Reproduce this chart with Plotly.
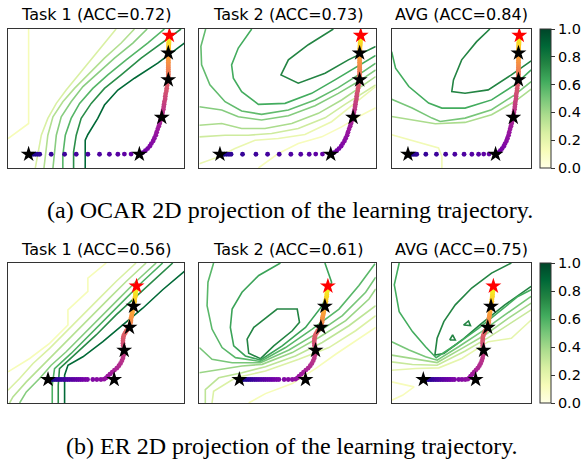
import plotly.graph_objects as go
from plotly.colors import sample_colorscale, get_colorscale

W, H = 582, 459

titles = ["Task 1 (ACC=0.72)", "Task 2 (ACC=0.73)", "AVG (ACC=0.84)",
          "Task 1 (ACC=0.56)", "Task 2 (ACC=0.61)", "AVG (ACC=0.75)"]
captions = ["(a) OCAR 2D projection of the learning trajectory.",
            "(b) ER 2D projection of the learning trajectory."]
cbar_ticks = [0.0, 0.2, 0.4, 0.6, 0.8, 1.0]

# ---- learning trajectories (projected coords, 0..1 box) ----
ocar_x = [0.117, 0.130, 0.142, 0.155, 0.168, 0.180, 0.245, 0.321, 0.387, 0.453, 0.519, 0.575, 0.623, 0.660, 0.698,
          0.745, 0.764, 0.779, 0.792, 0.804, 0.813, 0.823, 0.830, 0.838, 0.843, 0.849, 0.855, 0.860, 0.864, 0.868,
          0.872, 0.875, 0.877, 0.881, 0.883, 0.885, 0.887, 0.891, 0.892, 0.894, 0.898, 0.900, 0.902, 0.904, 0.908,
          0.909, 0.909, 0.909, 0.909, 0.909, 0.909, 0.909, 0.909, 0.909, 0.909, 0.909, 0.909, 0.909, 0.909, 0.909,
          0.909, 0.909, 0.910, 0.910, 0.910, 0.911, 0.911, 0.912, 0.912, 0.912, 0.913, 0.913, 0.914, 0.914, 0.915, 0.915]
ocar_y = [0.099, 0.099, 0.099, 0.099, 0.099, 0.099, 0.099, 0.099, 0.099, 0.099, 0.099, 0.099, 0.099, 0.100, 0.100,
          0.099, 0.111, 0.125, 0.140, 0.157, 0.176, 0.195, 0.214, 0.236, 0.258, 0.280, 0.301, 0.320, 0.340, 0.357,
          0.364, 0.383, 0.402, 0.422, 0.441, 0.458, 0.477, 0.496, 0.516, 0.535, 0.554, 0.573, 0.593, 0.612, 0.627,
          0.634, 0.646, 0.658, 0.672, 0.684, 0.696, 0.711, 0.723, 0.735, 0.749, 0.761, 0.773, 0.788, 0.800, 0.812,
          0.827, 0.836, 0.843, 0.853, 0.860, 0.870, 0.880, 0.887, 0.896, 0.904, 0.913, 0.920, 0.930, 0.937, 0.947, 0.954]
ocar_star_x = [0.117, 0.745, 0.872, 0.909, 0.909, 0.915]
ocar_star_y = [0.099, 0.099, 0.364, 0.634, 0.827, 0.954]

er_x = [0.227, 0.240, 0.252, 0.265, 0.277, 0.289, 0.301, 0.314, 0.326, 0.338, 0.350, 0.363, 0.375, 0.388,
        0.400, 0.412, 0.424, 0.438, 0.451, 0.481, 0.504, 0.527,
        0.545, 0.557, 0.566, 0.578, 0.591, 0.604, 0.617, 0.629, 0.638, 0.646, 0.652, 0.655, 0.657,
        0.659, 0.657, 0.653, 0.652, 0.652, 0.653, 0.655, 0.659, 0.665, 0.670, 0.676, 0.682, 0.686,
        0.689, 0.691, 0.693, 0.695, 0.697, 0.697, 0.699, 0.701, 0.703, 0.705, 0.706, 0.708, 0.710,
        0.712, 0.714, 0.716, 0.718, 0.718, 0.720, 0.722, 0.723, 0.723, 0.725, 0.727, 0.727, 0.729]
er_y = [0.168, 0.168, 0.168, 0.168, 0.168, 0.168, 0.168, 0.168, 0.168, 0.168, 0.168, 0.168, 0.168, 0.168,
        0.168, 0.168, 0.168, 0.168, 0.168, 0.168, 0.168, 0.168,
        0.170, 0.180, 0.192, 0.206, 0.221, 0.235, 0.249, 0.266, 0.283, 0.302, 0.321, 0.341, 0.360,
        0.376, 0.393, 0.410, 0.427, 0.444, 0.460, 0.475, 0.489, 0.501, 0.513, 0.523, 0.530, 0.535,
        0.540, 0.552, 0.564, 0.576, 0.588, 0.600, 0.612, 0.624, 0.635, 0.647, 0.659, 0.671, 0.681,
        0.691, 0.703, 0.715, 0.727, 0.739, 0.751, 0.763, 0.775, 0.787, 0.799, 0.811, 0.823, 0.835]
er_star_x = [0.227, 0.602, 0.659, 0.689, 0.712, 0.729]
er_star_y = [0.168, 0.168, 0.376, 0.540, 0.691, 0.835]

# ---- accuracy contour lines: level, x, y per panel ----
ocar_t1_levels = [0.13, 0.25, 0.36, 0.46, 0.58, 0.72, 0.87]
ocar_t1_x = [[0.117, 0.117, 0.0],
             [0.613, 0.547, 0.472, 0.396, 0.330, 0.274, 0.226, 0.189, 0.170, 0.155],
             [0.717, 0.642, 0.547, 0.462, 0.377, 0.311, 0.255, 0.226, 0.211, 0.204],
             [0.789, 0.708, 0.604, 0.509, 0.425, 0.358, 0.302, 0.274, 0.260, 0.255],
             [0.887, 0.792, 0.670, 0.566, 0.481, 0.406, 0.358, 0.325, 0.311, 0.311],
             [0.981, 0.887, 0.755, 0.642, 0.547, 0.472, 0.415, 0.387, 0.372, 0.372],
             [1.0, 0.849, 0.717, 0.623, 0.547, 0.509, 0.453, 0.438, 0.438]]
ocar_t1_y = [[1.0, 0.32, 0.212],
             [1.0, 0.899, 0.778, 0.670, 0.561, 0.465, 0.357, 0.236, 0.104, 0.0],
             [1.0, 0.899, 0.790, 0.682, 0.573, 0.477, 0.369, 0.236, 0.092, 0.0],
             [1.0, 0.899, 0.790, 0.682, 0.586, 0.477, 0.369, 0.236, 0.092, 0.0],
             [1.0, 0.899, 0.778, 0.670, 0.573, 0.465, 0.357, 0.236, 0.092, 0.0],
             [1.0, 0.911, 0.790, 0.670, 0.573, 0.465, 0.357, 0.236, 0.116, 0.0],
             [0.899, 0.754, 0.646, 0.561, 0.453, 0.357, 0.241, 0.2, 0.0]]

ocar_t2_levels = [0.75, 0.62, 0.55, 0.47, 0.38, 0.28, 0.18, 0.12]
ocar_t2_x = [[0.760, 0.618, 0.505, 0.463, 0.561, 0.713, 0.845, 1.0],
             [0.297, 0.221, 0.183, 0.193, 0.240, 0.335, 0.486, 0.637, 0.769, 0.883, 1.0],
             [0.036, 0.009, 0.013, 0.060, 0.146, 0.240, 0.353, 0.505, 0.656, 0.788, 0.902, 1.0],
             [0.0, 0.127, 0.221, 0.353, 0.505, 0.656, 0.788, 0.902, 1.0],
             [0.0, 0.127, 0.240, 0.372, 0.524, 0.675, 0.807, 0.921, 1.0],
             [0.0, 0.146, 0.278, 0.410, 0.561, 0.713, 0.826, 0.940, 1.0],
             [0.0, 0.108, 0.202, 0.316, 0.448, 0.599, 0.750, 0.883, 1.0],
             [0.335, 0.448, 0.561, 0.694, 0.807, 0.902, 1.0]]
ocar_t2_y = [[1.0, 0.887, 0.778, 0.670, 0.610, 0.682, 0.778, 0.875],
             [1.0, 0.863, 0.742, 0.646, 0.549, 0.458, 0.465, 0.537, 0.634, 0.723, 0.810],
             [1.0, 0.875, 0.742, 0.598, 0.477, 0.410, 0.386, 0.417, 0.489, 0.578, 0.670, 0.754],
             [0.441, 0.417, 0.369, 0.345, 0.376, 0.448, 0.537, 0.622, 0.706],
             [0.308, 0.320, 0.284, 0.284, 0.320, 0.393, 0.489, 0.586, 0.658],
             [0.224, 0.236, 0.236, 0.248, 0.284, 0.361, 0.458, 0.549, 0.598],
             [0.031, 0.080, 0.140, 0.200, 0.212, 0.241, 0.333, 0.465, 0.586],
             [0.0, 0.104, 0.176, 0.224, 0.296, 0.369, 0.434]]

ocar_avg_levels = [0.75, 0.62, 0.5, 0.38, 0.15]
ocar_avg_x = [[0.704, 0.609, 0.502, 0.443, 0.431, 0.526, 0.692, 0.858, 1.0],
              [0.0, 0.028, 0.123, 0.265, 0.360, 0.526, 0.716, 0.882, 1.0],
              [0.0, 0.147, 0.289, 0.348, 0.526, 0.716, 0.882, 1.0],
              [0.0, 0.147, 0.313, 0.526, 0.716, 0.882, 1.0],
              [0.0, 0.171, 0.336, 0.360, 0.360]]
ocar_avg_y = [[1.0, 0.909, 0.778, 0.634, 0.550, 0.538, 0.562, 0.670, 0.770],
              [0.837, 0.718, 0.586, 0.467, 0.431, 0.431, 0.490, 0.598, 0.706],
              [0.495, 0.431, 0.359, 0.335, 0.359, 0.419, 0.526, 0.622],
              [0.371, 0.347, 0.318, 0.328, 0.383, 0.478, 0.567],
              [0.239, 0.191, 0.144, 0.084, 0.0]]

er_t1_levels = [0.13, 0.25, 0.35, 0.47, 0.6, 0.73, 0.87]
er_t1_x = [[0.557, 0.453, 0.453, 0.340, 0.340, 0.236, 0.123, 0.0],
           [0.726, 0.613, 0.519, 0.425, 0.330, 0.236, 0.142, 0.066, 0.0],
           [0.783, 0.670, 0.575, 0.481, 0.387, 0.292, 0.198, 0.104, 0.028, 0.009],
           [0.840, 0.726, 0.632, 0.538, 0.434, 0.330, 0.245, 0.179, 0.104, 0.066],
           [0.877, 0.764, 0.670, 0.575, 0.462, 0.358, 0.264, 0.251, 0.251],
           [0.934, 0.821, 0.708, 0.613, 0.5, 0.387, 0.292, 0.285, 0.285],
           [1.0, 0.877, 0.764, 0.651, 0.538, 0.425, 0.340, 0.321, 0.321]]
er_t1_y = [[1.0, 0.892, 0.797, 0.665, 0.557, 0.426, 0.318, 0.222],
           [1.0, 0.868, 0.749, 0.629, 0.510, 0.390, 0.282, 0.175, 0.091],
           [1.0, 0.868, 0.749, 0.629, 0.510, 0.390, 0.270, 0.151, 0.043, 0.0],
           [1.0, 0.868, 0.749, 0.629, 0.498, 0.366, 0.270, 0.175, 0.079, 0.0],
           [1.0, 0.868, 0.749, 0.629, 0.486, 0.354, 0.246, 0.127, 0.0],
           [1.0, 0.868, 0.737, 0.629, 0.486, 0.354, 0.246, 0.127, 0.0],
           [0.940, 0.809, 0.677, 0.557, 0.438, 0.330, 0.270, 0.199, 0.0]]

er_t2_levels = [0.75, 0.65, 0.57, 0.5, 0.42, 0.33, 0.24, 0.13]
er_t2_x = [[0.347, 0.280, 0.271, 0.309, 0.441, 0.555, 0.568, 0.527, 0.422, 0.347],
           [0.460, 0.337, 0.242, 0.186, 0.176, 0.195, 0.261, 0.347, 0.470, 0.602, 0.697, 0.75, 0.712],
           [0.081, 0.049, 0.044, 0.072, 0.129, 0.205, 0.347, 0.489, 0.640, 0.792, 0.905, 0.996],
           [0.0, 0.072, 0.186, 0.347, 0.508, 0.659, 0.811, 0.943, 1.0],
           [0.0, 0.110, 0.242, 0.356, 0.527, 0.678, 0.830, 0.962, 1.0],
           [0.034, 0.034, 0.110, 0.242, 0.375, 0.545, 0.697, 0.848, 1.0],
           [0.072, 0.081, 0.205, 0.375, 0.564, 0.735, 0.886, 1.0],
           [0.280, 0.375, 0.527, 0.659, 0.773, 0.886, 1.0]]
er_t2_y = [[0.317, 0.355, 0.456, 0.540, 0.671, 0.671, 0.576, 0.516, 0.408, 0.317],
           [1.0, 0.911, 0.791, 0.671, 0.540, 0.408, 0.336, 0.307, 0.408, 0.540, 0.695, 0.863, 1.0],
           [1.0, 0.863, 0.695, 0.528, 0.396, 0.324, 0.297, 0.396, 0.528, 0.671, 0.839, 0.995],
           [0.396, 0.312, 0.288, 0.288, 0.379, 0.492, 0.624, 0.791, 0.899],
           [0.216, 0.240, 0.264, 0.276, 0.360, 0.468, 0.588, 0.743, 0.815],
           [0.0, 0.096, 0.180, 0.216, 0.259, 0.336, 0.432, 0.552, 0.695],
           [0.0, 0.084, 0.180, 0.228, 0.312, 0.396, 0.516, 0.624],
           [0.0, 0.067, 0.139, 0.245, 0.348, 0.444, 0.540]]

er_avg_levels = [0.75, 0.75, 0.75, 0.62, 0.5, 0.4, 0.3, 0.2, 0.12]
er_avg_x = [[0.858, 0.716, 0.574, 0.456, 0.374, 0.326, 0.310, 0.374, 0.504, 0.645, 0.811, 1.0],
            [0.515, 0.551, 0.565, 0.515],
            [0.416, 0.437, 0.456, 0.416],
            [0.054, 0.019, 0.054, 0.149, 0.243, 0.319, 0.456, 0.622, 0.787, 0.905, 1.0],
            [0.0, 0.125, 0.243, 0.326, 0.480, 0.645, 0.811, 1.0],
            [0.0, 0.149, 0.326, 0.504, 0.669, 0.835, 1.0],
            [0.0, 0.149, 0.326, 0.527, 0.693, 0.858, 1.0],
            [0.0, 0.173, 0.338, 0.504, 0.693, 0.858, 1.0],
            [0.0, 0.078, 0.161, 0.078, 0.0]]
er_avg_y = [[1.0, 0.928, 0.821, 0.701, 0.581, 0.462, 0.342, 0.354, 0.450, 0.569, 0.701, 0.833],
            [0.557, 0.586, 0.553, 0.557],
            [0.450, 0.486, 0.450, 0.450],
            [1.0, 0.844, 0.653, 0.510, 0.402, 0.323, 0.414, 0.533, 0.665, 0.761, 0.809],
            [0.438, 0.378, 0.330, 0.306, 0.402, 0.510, 0.629, 0.761],
            [0.342, 0.318, 0.289, 0.390, 0.486, 0.605, 0.713],
            [0.294, 0.275, 0.270, 0.371, 0.467, 0.574, 0.665],
            [0.234, 0.246, 0.251, 0.318, 0.438, 0.462, 0.593],
            [0.151, 0.132, 0.115, 0.055, 0.019]]

panels = [
    (ocar_t1_levels, ocar_t1_x, ocar_t1_y, ocar_x, ocar_y, ocar_star_x, ocar_star_y),
    (ocar_t2_levels, ocar_t2_x, ocar_t2_y, ocar_x, ocar_y, ocar_star_x, ocar_star_y),
    (ocar_avg_levels, ocar_avg_x, ocar_avg_y, ocar_x, ocar_y, ocar_star_x, ocar_star_y),
    (er_t1_levels, er_t1_x, er_t1_y, er_x, er_y, er_star_x, er_star_y),
    (er_t2_levels, er_t2_x, er_t2_y, er_x, er_y, er_star_x, er_star_y),
    (er_avg_levels, er_avg_x, er_avg_y, er_x, er_y, er_star_x, er_star_y),
]

# panel boxes in pixels
col_px = [(8, 185), (200, 377), (393, 533)]
row_px = [(29, 168), (263, 403)]

ylgn = get_colorscale("YlGn")
fig = go.Figure()
layout = {}
annotations = []

for k, (levels, cx, cy, tx, ty, sx, sy) in enumerate(panels):
    r, c = divmod(k, 3)
    n = k + 1
    xa, ya = f"x{n}", f"y{n}"
    x0, x1 = col_px[c]
    y0, y1 = row_px[r]
    axis_style = dict(range=[0, 1], showticklabels=False, ticks="", showgrid=False, zeroline=False,
                      showline=True, mirror=True, linecolor="#333", linewidth=1, fixedrange=True)
    layout[f"xaxis{n}"] = dict(domain=[x0 / W, x1 / W], anchor=ya, **axis_style)
    layout[f"yaxis{n}"] = dict(domain=[1 - y1 / H, 1 - y0 / H], anchor=xa, **axis_style)

    for lv, lx, ly in zip(levels, cx, cy):
        col = sample_colorscale(ylgn, [lv])[0]
        fig.add_trace(go.Scatter(x=lx, y=ly, mode="lines", line=dict(color=col, width=1.6),
                                 xaxis=xa, yaxis=ya, hoverinfo="skip", showlegend=False))

    fig.add_trace(go.Scatter(x=tx, y=ty, mode="markers", xaxis=xa, yaxis=ya, showlegend=False,
                             marker=dict(color=list(range(len(tx))), colorscale="Plasma", size=4.8,
                                         line=dict(width=0))))
    fig.add_trace(go.Scatter(x=sx[:-1], y=sy[:-1], mode="markers", xaxis=xa, yaxis=ya, showlegend=False,
                             marker=dict(symbol="star", size=12, color="black", line=dict(width=0))))
    fig.add_trace(go.Scatter(x=sx[-1:], y=sy[-1:], mode="markers", xaxis=xa, yaxis=ya, showlegend=False,
                             marker=dict(symbol="star", size=12, color="red", line=dict(width=0))))

    annotations.append(dict(text=titles[k], x=(x0 + x1) / 2 / W, y=1 - (14.5 if r == 0 else 249.5) / H,
                            xref="paper", yref="paper", showarrow=False, xanchor="center", yanchor="middle",
                            font=dict(family="DejaVu Sans", size=16, color="black")))

    if c == 2:
        fig.add_trace(go.Scatter(
            x=[None], y=[None], mode="markers", xaxis=xa, yaxis=ya, showlegend=False, hoverinfo="skip",
            marker=dict(color=[0], cmin=cbar_ticks[0], cmax=cbar_ticks[-1], colorscale=ylgn, showscale=True,
                        colorbar=dict(x=542 / W, xanchor="left", xpad=0, ypad=0,
                                      y=1 - (y0 + y1) / 2 / H, yanchor="middle",
                                      len=(y1 - y0) / H, lenmode="fraction",
                                      thickness=11, thicknessmode="pixels",
                                      outlinewidth=1, outlinecolor="#333",
                                      tickvals=cbar_ticks, ticktext=[f"{v:.1f}" for v in cbar_ticks],
                                      ticks="outside", ticklen=4, tickwidth=1, tickcolor="#333",
                                      tickfont=dict(family="DejaVu Sans", size=14.5, color="black")))))

annotations.append(dict(text=captions[0], x=291.5 / W, y=1 - 210 / H, xref="paper", yref="paper",
                        showarrow=False, xanchor="center", yanchor="middle",
                        font=dict(family="Liberation Serif", size=24, color="black")))
annotations.append(dict(text=captions[1], x=293 / W, y=1 - 445.5 / H, xref="paper", yref="paper",
                        showarrow=False, xanchor="center", yanchor="middle",
                        font=dict(family="Liberation Serif", size=24, color="black")))

fig.update_layout(width=W, height=H, margin=dict(l=0, r=0, t=0, b=0),
                  paper_bgcolor="white", plot_bgcolor="white", annotations=annotations, **layout)
fig.write_html("out.html", config={"displayModeBar": False},
               post_script="document.body.style.margin = '0px';")
